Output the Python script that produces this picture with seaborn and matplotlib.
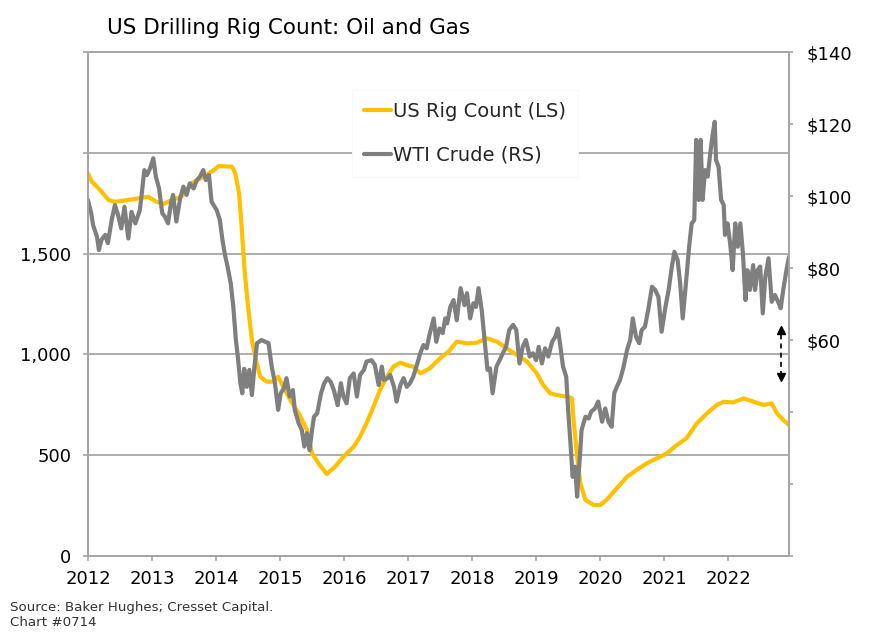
import matplotlib
matplotlib.use("Agg")
import matplotlib.pyplot as plt
import numpy as np
import pandas as pd
import seaborn as sns

# ---------------- data ----------------
rig_years = [2012.00, 2012.06, 2012.19, 2012.32, 2012.42, 2012.63, 2012.79, 2012.94,
             2013.07, 2013.18, 2013.31, 2013.46, 2013.62, 2013.80, 2013.93, 2014.04,
             2014.25, 2014.30, 2014.36, 2014.40, 2014.45, 2014.50, 2014.56, 2014.61,
             2014.69, 2014.79, 2014.90, 2014.97, 2015.05, 2015.16, 2015.29, 2015.42,
             2015.50, 2015.60, 2015.73, 2015.86, 2015.99, 2016.15, 2016.25, 2016.35,
             2016.46, 2016.56, 2016.67, 2016.77, 2016.88, 2016.98, 2017.08, 2017.19,
             2017.34, 2017.50, 2017.63, 2017.76, 2017.92, 2018.07, 2018.23, 2018.39,
             2018.54, 2018.70, 2018.86, 2019.01, 2019.11, 2019.22, 2019.32, 2019.48,
             2019.56, 2019.58, 2019.64, 2019.69, 2019.77, 2019.90, 2020.00, 2020.10,
             2020.26, 2020.42, 2020.57, 2020.73, 2020.89, 2021.04, 2021.20, 2021.35,
             2021.51, 2021.67, 2021.82, 2021.93, 2022.08, 2022.24, 2022.40, 2022.55,
             2022.68, 2022.76, 2022.86, 2022.95]
rig_count = [1898, 1857, 1815, 1766, 1757, 1766, 1774, 1782,
             1757, 1746, 1766, 1782, 1849, 1881, 1906, 1934,
             1931, 1898, 1799, 1633, 1402, 1237, 1071, 989,
             889, 865, 865, 889, 840, 774, 708, 625,
             509, 460, 407, 443, 493, 542, 592, 658,
             741, 823, 889, 939, 959, 947, 939, 906,
             931, 981, 1013, 1063, 1055, 1058, 1080, 1063,
             1030, 997, 964, 906, 848, 807, 799, 790,
             782, 691, 493, 361, 278, 253, 253, 278,
             336, 393, 427, 460, 485, 509, 551, 584,
             658, 708, 749, 765, 762, 782, 765, 749,
             757, 708, 675, 650]

wti_years = [2012.00, 2012.05, 2012.08, 2012.14, 2012.17, 2012.21, 2012.27, 2012.31,
             2012.37, 2012.42, 2012.47, 2012.52, 2012.57, 2012.63, 2012.68, 2012.74,
             2012.81, 2012.84, 2012.88, 2012.92, 2012.97, 2013.02, 2013.06, 2013.11,
             2013.16, 2013.20, 2013.25, 2013.30, 2013.33, 2013.38, 2013.44, 2013.49,
             2013.54, 2013.59, 2013.65, 2013.70, 2013.75, 2013.80, 2013.84, 2013.89,
             2013.93, 2014.01, 2014.06, 2014.10, 2014.14, 2014.18, 2014.23, 2014.27,
             2014.31, 2014.34, 2014.38, 2014.41, 2014.44, 2014.48, 2014.52, 2014.56,
             2014.60, 2014.64, 2014.71, 2014.82, 2014.87, 2014.92, 2014.97, 2015.01,
             2015.06, 2015.10, 2015.15, 2015.20, 2015.23, 2015.29, 2015.34, 2015.38,
             2015.42, 2015.46, 2015.50, 2015.53, 2015.58, 2015.64, 2015.69, 2015.74,
             2015.79, 2015.84, 2015.90, 2015.95, 2015.99, 2016.04, 2016.09, 2016.15,
             2016.20, 2016.25, 2016.31, 2016.35, 2016.43, 2016.48, 2016.54, 2016.59,
             2016.62, 2016.68, 2016.72, 2016.78, 2016.82, 2016.88, 2016.93, 2016.98,
             2017.03, 2017.08, 2017.13, 2017.19, 2017.24, 2017.29, 2017.34, 2017.40,
             2017.44, 2017.49, 2017.54, 2017.58, 2017.61, 2017.66, 2017.71, 2017.76,
             2017.82, 2017.88, 2017.92, 2017.97, 2018.02, 2018.06, 2018.10, 2018.15,
             2018.20, 2018.24, 2018.28, 2018.32, 2018.38, 2018.43, 2018.48, 2018.53,
             2018.58, 2018.64, 2018.69, 2018.74, 2018.79, 2018.84, 2018.90, 2018.95,
             2019.00, 2019.04, 2019.09, 2019.14, 2019.19, 2019.25, 2019.30, 2019.34,
             2019.38, 2019.42, 2019.47, 2019.50, 2019.54, 2019.57, 2019.61, 2019.64,
             2019.68, 2019.71, 2019.77, 2019.82, 2019.86, 2019.92, 2019.97, 2020.03,
             2020.08, 2020.13, 2020.18, 2020.22, 2020.26, 2020.31, 2020.36, 2020.42,
             2020.47, 2020.51, 2020.56, 2020.61, 2020.65, 2020.70, 2020.75, 2020.81,
             2020.86, 2020.91, 2020.96, 2021.02, 2021.07, 2021.12, 2021.16, 2021.21,
             2021.25, 2021.29, 2021.34, 2021.39, 2021.43, 2021.47, 2021.50, 2021.54,
             2021.57, 2021.60, 2021.64, 2021.68, 2021.72, 2021.76, 2021.79, 2021.81,
             2021.85, 2021.89, 2021.93, 2021.95, 2021.99, 2022.03, 2022.07, 2022.11,
             2022.15, 2022.19, 2022.23, 2022.27, 2022.30, 2022.34, 2022.39, 2022.42,
             2022.46, 2022.50, 2022.54, 2022.58, 2022.63, 2022.68, 2022.73, 2022.79,
             2022.82, 2022.86, 2022.91, 2022.95]
wti_price = [98.9, 95.2, 91.9, 88.7, 85.0, 87.8, 89.2, 86.9,
             93.3, 97.5, 94.7, 91.0, 97.0, 88.2, 95.6, 92.4,
             96.1, 100.7, 107.2, 105.8, 107.7, 110.5, 105.4, 102.1,
             95.2, 94.3, 92.4, 98.4, 100.3, 92.9, 99.4, 102.6,
             100.3, 103.5, 102.1, 104.4, 105.4, 107.2, 104.4, 105.8,
             98.4, 96.1, 93.3, 87.8, 83.6, 80.4, 75.7, 69.2,
             60.0, 55.4, 48.0, 45.2, 52.0, 47.0, 51.7, 44.7,
             52.6, 59.1, 60.0, 59.1, 52.6, 48.0, 40.6, 45.2,
             46.6, 49.4, 44.3, 46.1, 40.6, 36.9, 35.0, 30.4,
             34.1, 29.4, 35.0, 38.7, 39.6, 45.2, 48.0, 49.4,
             48.4, 46.1, 41.9, 48.0, 44.3, 42.4, 49.4, 50.7,
             44.3, 50.3, 51.7, 54.0, 54.4, 53.1, 47.5, 52.6,
             48.9, 49.4, 50.3, 47.0, 42.9, 47.5, 49.4, 47.0,
             48.0, 49.8, 52.6, 56.3, 58.6, 57.7, 61.9, 66.0,
             59.5, 63.2, 61.9, 66.0, 64.6, 69.2, 71.1, 65.5,
             74.4, 69.7, 73.0, 66.0, 70.2, 69.2, 74.4, 68.3,
             59.1, 51.7, 52.1, 45.2, 52.6, 54.4, 56.3, 58.1,
             62.8, 64.2, 62.8, 53.5, 58.1, 60.0, 55.4, 56.3,
             54.4, 58.1, 53.5, 57.7, 55.4, 59.5, 60.9, 63.2,
             58.1, 52.6, 49.8, 40.6, 30.4, 22.0, 24.8, 16.5,
             26.7, 35.0, 38.7, 38.2, 40.1, 41.0, 42.9, 37.3,
             41.0, 37.3, 35.9, 45.2, 47.0, 48.9, 52.1, 57.2,
             60.0, 66.0, 60.9, 59.1, 62.8, 63.7, 68.3, 74.8,
             73.9, 72.0, 62.3, 69.2, 73.9, 80.4, 84.5, 82.2,
             75.7, 66.0, 75.7, 85.9, 92.4, 93.3, 115.6, 98.9,
             115.6, 98.9, 107.2, 105.4, 111.9, 117.4, 120.6, 110.0,
             108.1, 98.9, 97.5, 89.2, 92.4, 86.9, 79.4, 92.4,
             85.9, 92.4, 84.1, 71.1, 79.4, 73.9, 80.8, 73.9,
             79.4, 80.4, 67.4, 77.6, 82.7, 70.6, 72.5, 70.2,
             68.8, 73.9, 79.4, 83.1]

x_ticks = list(range(2012, 2023))
left_ticks = [0, 500, 1000, 1500, 2000, 2500]
left_labels = ["0", "500", "1,000", "1,500", "", ""]
right_ticks = [0, 20, 40, 60, 80, 100, 120, 140]
right_labels = ["", "", "", "$60", "$80", "$100", "$120", "$140"]

title = "US Drilling Rig Count: Oil and Gas"
source_lines = ["Source: Baker Hughes; Cresset Capital.", "Chart #0714"]
series_names = ["US Rig Count (LS)", "WTI Crude (RS)"]

# gap arrow (left-axis units)
arrow_year = 2022.83
arrow_top = 1137
arrow_bottom = 870

# ---------------- style ----------------
sns.set_theme(style="white")
plt.rcParams['font.family'] = ['DejaVu Sans']

YELLOW = "#FFC000"
GRAY = "#7F7F7F"
AXCOL = "#A6A6A6"

fig = plt.figure(figsize=(8.86, 6.43), dpi=100)
W, H = 886, 643
ax = fig.add_axes([88 / W, 1 - 556 / H, (789 - 88) / W, (556 - 52) / H])
ax2 = ax.twinx()

rig_df = pd.DataFrame({"year": rig_years, "count": rig_count})
wti_df = pd.DataFrame({"year": wti_years, "price": wti_price})

sns.lineplot(data=rig_df, x="year", y="count", ax=ax, color=YELLOW, lw=3.0,
             legend=False, solid_joinstyle="round")
sns.lineplot(data=wti_df, x="year", y="price", ax=ax2, color=GRAY, lw=3.0,
             legend=False, solid_joinstyle="round")

ax.set_xlim(2012, 2022.95)
ax.set_ylim(0, 2500)
ax2.set_ylim(0, 140)

ax.set_xticks(x_ticks)
ax.set_xticklabels([str(t) for t in x_ticks])
ax.set_yticks(left_ticks)
ax.set_yticklabels(left_labels)
ax2.set_yticks(right_ticks)
ax2.set_yticklabels(right_labels)

for a in (ax, ax2):
    a.set_xlabel("")
    a.set_ylabel("")
    for s in a.spines.values():
        s.set_color(AXCOL)
        s.set_linewidth(1.3)

ax.yaxis.grid(True, color=AXCOL, lw=1.3)
ax.xaxis.grid(False)
ax2.grid(False)

ax.tick_params(axis="x", direction="out", length=3.6, width=1.2, color=AXCOL,
               labelsize=13, pad=6.5, labelcolor="black", bottom=True)
ax.tick_params(axis="y", direction="out", length=3.6, width=1.2, color=AXCOL,
               labelsize=13, pad=8.5, labelcolor="black", left=True)
ax2.tick_params(axis="y", direction="out", length=3.0, width=1.2, color=AXCOL,
                labelsize=13, pad=9.5, labelcolor="black", right=True)

# legend
h1 = ax.lines[0]
h2 = ax2.lines[0]
leg = ax2.legend([h1, h2], series_names, loc="upper left",
                 bbox_to_anchor=((352 - 88) / 701, (556 - 90) / 504),
                 frameon=True, fancybox=False, framealpha=1, facecolor="white",
                 edgecolor="#F7F7F7", fontsize=14, handlelength=1.4,
                 handletextpad=0.12, labelspacing=1.3, borderpad=0.6,
                 borderaxespad=0)
leg.get_frame().set_linewidth(0.6)

# dashed double arrow showing the gap
ax.plot([arrow_year, arrow_year], [arrow_bottom + 25, arrow_top - 25],
        ls=(0, (3, 2.5)), color="black", lw=1.2, zorder=5)
ax.plot([arrow_year], [arrow_top - 18], marker="^", ms=5.5, color="black", zorder=5)
ax.plot([arrow_year], [arrow_bottom + 18], marker="v", ms=5.5, color="black", zorder=5)

fig.text(107 / W, 1 - 28 / H, title, fontsize=15.5, va="center", ha="left", color="black")
fig.text(10 / W, 1 - 608 / H, source_lines[0], fontsize=9.6, va="center", ha="left", color="#333333")
fig.text(10 / W, 1 - 622 / H, source_lines[1], fontsize=9.6, va="center", ha="left", color="#333333")

fig.savefig("out.png", dpi=100, facecolor="white")
